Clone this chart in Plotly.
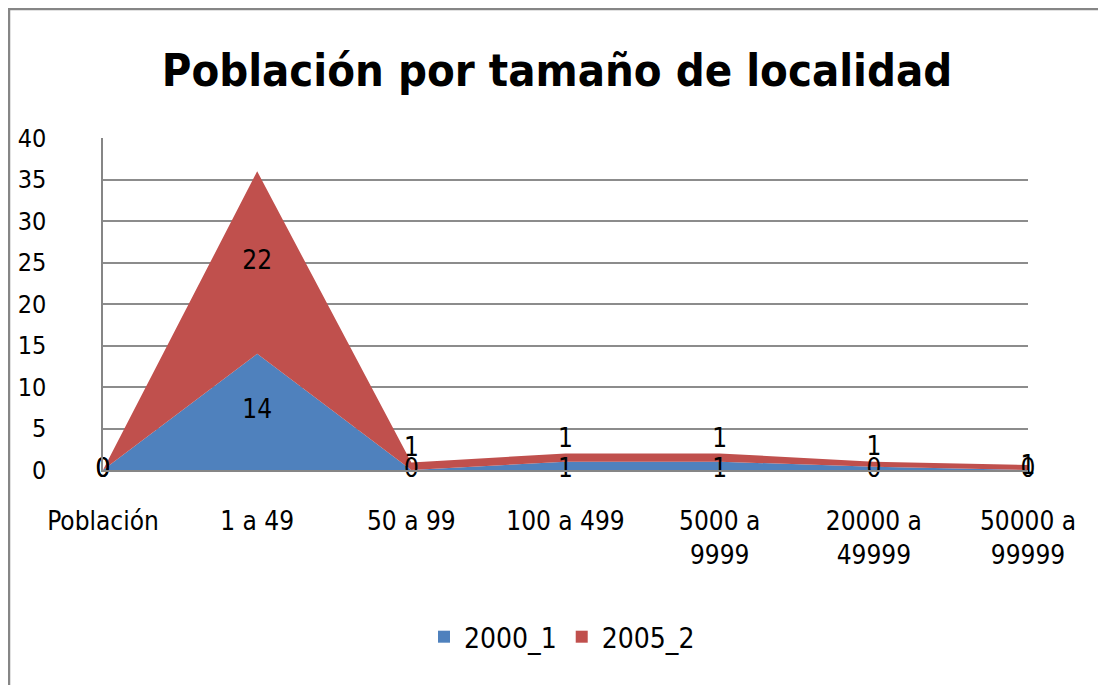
import numpy as np
import plotly.graph_objects as go

categories = ["Población", "1 a 49", "50 a 99", "100 a 499", "5000 a<br>9999",
              "20000 a<br>49999", "50000 a<br>99999"]
serie_2000_1 = [0, 14, 0, 1, 1, 0.4, 0]
serie_2005_2 = [0, 22, 0.9, 1, 1, 0.6, 0.6]
series_names = ["2000_1", "2005_2"]
colors = ["#4F81BD", "#C0504D"]

OFF = 8  # page body margin
W, H = 1106 - OFF, 685 - OFF
L, R, T, B = 103 - OFF, 1028 - OFF, 138 - OFF, 470 - OFF
pw, ph = R - L, B - T

def px(x):
    return (x - OFF - L) / pw

def py(y):
    return (B - (y - OFF)) / ph

FONT = "DejaVu Sans Condensed"

fig = go.Figure()
for name, vals, col in zip(series_names, [serie_2000_1, serie_2005_2], colors):
    fig.add_trace(go.Scatter(
        x=categories, y=vals, name=name, stackgroup="one", mode="none",
        fillcolor=col, line=dict(width=0), hoverinfo="x+y", showlegend=False,
    ))

b = np.array(serie_2000_1, dtype=float)
r = np.array(serie_2005_2, dtype=float)
total = b + r
thin = (total < 3) & (total >= 0.9)

def fmt(vals):
    return [f"{v:.0f}" for v in vals]

# 2000_1 labels: middle of the band, or on the axis when the stack is thin
fig.add_trace(go.Scatter(
    x=categories, y=np.where(thin, 0, b / 2), mode="text", text=fmt(b),
    textposition="middle center", showlegend=False, hoverinfo="skip",
    textfont=dict(family=FONT, size=26, color="#000000"), cliponaxis=False,
))
# 2005_2 labels: middle of the band, or just above it when the stack is thin
fig.add_trace(go.Scatter(
    x=categories, y=np.where(thin, total, b + r / 2), mode="text", text=fmt(r),
    textposition=["top center" if t else "middle center" for t in thin],
    showlegend=False, hoverinfo="skip",
    textfont=dict(family=FONT, size=26, color="#000000"), cliponaxis=False,
))

for name, col in zip(series_names, colors):
    fig.add_trace(go.Scatter(
        x=[None], y=[None], mode="markers", name=name,
        marker=dict(symbol="square", size=15, color=col),
    ))

fig.update_layout(
    width=W, height=H,
    margin=dict(l=L, r=W - R, t=T, b=H - B, pad=0, autoexpand=False),
    paper_bgcolor="white", plot_bgcolor="white",
    title=dict(text="<b>Población por tamaño de localidad</b>", x=0.5, xanchor="center",
               y=1 - (70 - OFF) / H, yanchor="middle",
               font=dict(family=FONT, size=45, color="#000000")),
    font=dict(family=FONT, size=25, color="#000000"),
    xaxis=dict(type="category", range=[0, len(categories) - 1], showgrid=False,
               showline=True, linecolor="#868686", linewidth=2, ticks="", automargin=False,
               ticklabelstandoff=27, tickfont=dict(family=FONT, size=26)),
    yaxis=dict(range=[0, 40.02], dtick=5, showgrid=True, gridcolor="#8C8C8C", gridwidth=1.5,
               showline=True, linecolor="#868686", linewidth=1.5, ticks="", automargin=False,
               zeroline=False, ticklabelstandoff=50, tickfont=dict(family=FONT, size=25)),
    legend=dict(orientation="h", x=px(562), xanchor="center", y=py(637), yanchor="middle",
                font=dict(family=FONT, size=28), traceorder="normal", itemsizing="constant",
                itemwidth=30),
    shapes=[dict(type="rect", xref="paper", yref="paper",
                 x0=px(OFF + 1), x1=px(1104), y0=py(OFF + 1), y1=py(700),
                 line=dict(color="#868686", width=2.5), fillcolor="rgba(0,0,0,0)", layer="below")],
)

fig.write_html("out.html")
